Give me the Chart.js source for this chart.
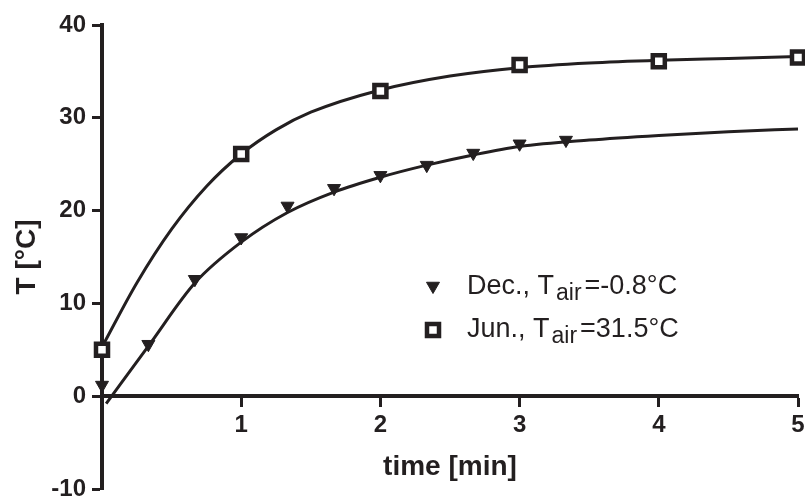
<!DOCTYPE html>
<html>
<head>
<meta charset="utf-8">
<script src="https://cdn.jsdelivr.net/npm/chart.js@4.4.0/dist/chart.umd.min.js"></script>
<style>
  html, body { margin: 0; padding: 0; background: #fff; }
  #wrap { width: 805px; height: 499px; }
</style>
</head>
<body>
<div id="wrap"><canvas id="chart" width="805" height="499"></canvas></div>
<script>
const junTime = [0, 1, 2, 3, 4, 5];
const junTemp = [5.0, 26.1, 32.9, 35.7, 36.1, 36.5];
const decTime = [0, 0.333, 0.667, 1, 1.333, 1.667, 2, 2.333, 2.667, 3, 3.333];
const decTemp = [1.2, 5.6, 12.6, 17.1, 20.5, 22.4, 23.8, 24.9, 26.2, 27.2, 27.6];

// fitted curves, also
const junFitTime = [0, 0.25, 0.5, 0.75, 1, 1.25, 1.5, 2, 2.5, 3, 3.5, 4, 4.5, 5];
const junFitTemp = [5.3, 12.2, 18.0, 22.6, 26.1, 28.7, 30.6, 33.0, 34.5, 35.4, 35.9, 36.2, 36.4, 36.6];
const decFitTime = [0.03, 0.333, 0.667, 1, 1.333, 1.667, 2, 2.333, 2.667, 3, 3.5, 4, 4.5, 5];
const decFitTemp = [-0.8, 5.4, 12.2, 16.6, 19.8, 22.0, 23.6, 24.9, 26.0, 26.9, 27.6, 28.1, 28.5, 28.8];

const xTicks = [0, 1, 2, 3, 4, 5];
const yTicks = [-10, 0, 10, 20, 30, 40];

const ink = "#231f20";
const fontFamily = "'Liberation Sans', Arial, Helvetica, sans-serif";

function pairs(xs, ys) {
  return xs.map((x, i) => ({ x: x, y: ys[i] }));
}

// legend with subscripts, drawn by hand
const legendRows = [
  { label: ["Dec., T", "air", "=-0.8°C"], point: { pointStyle: "triangle", rotation: 180, radius: 7.5, borderWidth: 1 }, fill: ink },
  { label: ["Jun., T", "air", "=31.5°C"], point: { pointStyle: "rect", rotation: 0, radius: 8.5, borderWidth: 4.5 }, fill: "#fff" }
];

const subLegend = {
  id: "subLegend",
  afterDraw(chart) {
    const ctx = chart.ctx;
    const markX = 433, textX = 467;
    const rowsY = [294, 337];
    const markY = [286, 330];
    legendRows.forEach((row, i) => {
      const y = rowsY[i];
      ctx.save();
      ctx.fillStyle = row.fill;
      ctx.strokeStyle = ink;
      ctx.lineWidth = row.point.borderWidth;
      Chart.helpers.drawPoint(ctx, row.point, markX, markY[i]);
      ctx.restore();

      ctx.save();
      ctx.fillStyle = ink;
      ctx.textBaseline = "alphabetic";
      ctx.textAlign = "left";
      let x = textX;
      ctx.font = "27px " + fontFamily;
      ctx.fillText(row.label[0], x, y);
      x += ctx.measureText(row.label[0]).width + 2;
      ctx.font = "23px " + fontFamily;
      ctx.fillText(row.label[1], x, y + 6);
      x += ctx.measureText(row.label[1]).width + 3;
      ctx.font = "27px " + fontFamily;
      ctx.fillText(row.label[2], x, y);
      ctx.restore();
    });
  }
};

// keep label overhang from eating into the plot area
function noOverhang(scale) {
  scale.paddingTop = 0;
  scale.paddingBottom = 0;
  scale.paddingLeft = 0;
  scale.paddingRight = 0;
}

new Chart(document.getElementById("chart"), {
  type: "scatter",
  data: {
    datasets: [
      {
        label: "Dec.",
        data: pairs(decTime, decTemp),
        showLine: false,
        pointStyle: "triangle",
        rotation: 180,
        pointRadius: 7.5,
        pointBorderWidth: 1,
        pointBackgroundColor: ink,
        pointBorderColor: ink,
        clip: false,
        order: 0
      },
      {
        label: "Jun.",
        data: pairs(junTime, junTemp),
        showLine: false,
        pointStyle: "rect",
        pointRadius: 8.5,
        pointBorderWidth: 4.5,
        pointBackgroundColor: "#fff",
        pointBorderColor: ink,
        clip: false,
        order: 0
      },
      {
        label: "Dec. fit",
        data: pairs(decFitTime, decFitTemp),
        showLine: true,
        pointRadius: 0,
        borderColor: ink,
        borderWidth: 3,
        cubicInterpolationMode: "monotone",
        clip: false,
        order: 1
      },
      {
        label: "Jun. fit",
        data: pairs(junFitTime, junFitTemp),
        showLine: true,
        pointRadius: 0,
        borderColor: ink,
        borderWidth: 3,
        cubicInterpolationMode: "monotone",
        clip: false,
        order: 1
      }
    ]
  },
  options: {
    responsive: false,
    animation: false,
    layout: { autoPadding: false, padding: { left: 0, right: 7, top: 25, bottom: 10 } },
    plugins: {
      legend: { display: false },
      tooltip: { enabled: false }
    },
    scales: {
      x: {
        type: "linear",
        position: { y: 0 },
        min: 0,
        max: 5,
        afterBuildTicks: (scale) => { scale.ticks = xTicks.map(v => ({ value: v })); },
        afterFit: noOverhang,
        ticks: {
          color: ink,
          font: { family: fontFamily, size: 24, weight: "bold" },
          padding: 6,
          callback: (v) => (v === 0 ? "" : v)
        },
        grid: { drawOnChartArea: false, tickLength: 9, tickWidth: 3, tickColor: ink },
        border: { display: true, width: 4, color: ink },
        title: {
          display: true,
          text: "time [min]",
          color: ink,
          font: { family: fontFamily, size: 28, weight: "bold" },
          padding: { top: 4, bottom: 0 }
        }
      },
      y: {
        type: "linear",
        position: "left",
        min: -10,
        max: 40,
        afterBuildTicks: (scale) => { scale.ticks = yTicks.map(v => ({ value: v })); },
        afterFit: (scale) => { noOverhang(scale); scale.width = 102; },
        ticks: {
          color: ink,
          font: { family: fontFamily, size: 24, weight: "bold" },
          padding: 6
        },
        grid: { drawOnChartArea: false, tickLength: 10, tickWidth: 3, tickColor: ink },
        border: { display: true, width: 4, color: ink },
        title: {
          display: true,
          text: "T [°C]",
          color: ink,
          font: { family: fontFamily, size: 28, weight: "bold" },
          padding: { top: 10, bottom: 0 }
        }
      }
    }
  },
  plugins: [subLegend]
});
</script>
</body>
</html>
